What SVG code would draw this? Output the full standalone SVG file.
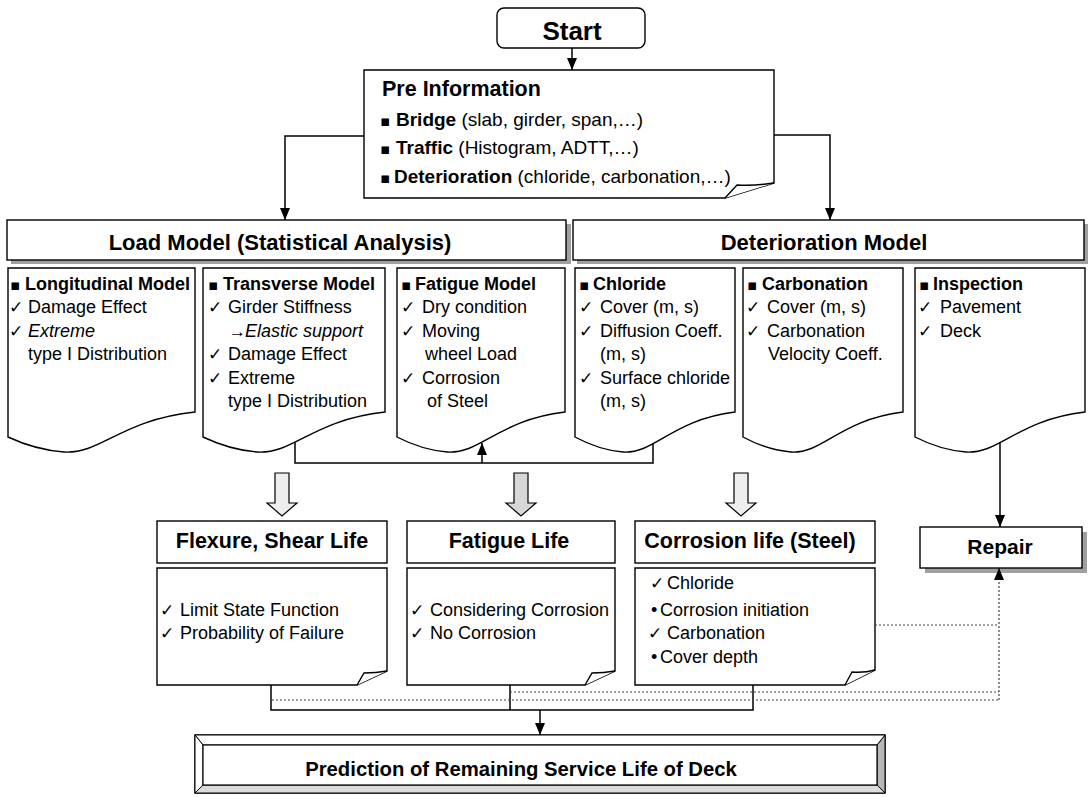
<svg xmlns="http://www.w3.org/2000/svg" width="1090" height="797" viewBox="0 0 1090 797">
<defs>
<marker id="ah" viewBox="0 0 12 10" markerWidth="12" markerHeight="10" refX="12" refY="5" orient="auto" markerUnits="userSpaceOnUse">
<path d="M0,0 L12,5 L0,10 z" fill="#000"/>
</marker>
</defs>
<style>
.box{fill:#fff;stroke:#000;stroke-width:1.4}
.sh{fill:#a0a0a0;stroke:none}
.t{font-family:"Liberation Sans",Arial,sans-serif;font-size:18px;fill:#000}
.p{font-size:19px}
.b{font-weight:bold}
.i{font-style:italic}
.h{font-family:"Liberation Sans",Arial,sans-serif;font-weight:bold;font-size:21.5px;fill:#000;text-anchor:middle}
.ck{font-family:"DejaVu Sans",sans-serif;font-size:17px}
.sq{font-family:"DejaVu Sans",sans-serif;font-size:15px}
.conn{fill:none;stroke:#000;stroke-width:1.5}
.dot{fill:none;stroke:#444;stroke-width:1.2;stroke-dasharray:2 2}
.blk{fill:#eeeeee;stroke:#000;stroke-width:1.2}
</style>
<rect width="1090" height="797" fill="#fff"/>

<g id="start">
<rect class="box" x="497" y="8" width="148" height="40" rx="7"/>
<text class="h" x="572" y="40" style="font-size:26px">Start</text>
</g>

<g id="pre-information">
<path class="box" d="M364,70 H774 V183 L725,198 H364 Z"/>
<path class="box" d="M725,198 L737,185 Q755,186 774,183"/>
<text class="t b" x="382" y="96" style="font-size:21.5px">Pre Information</text>
<text class="t p" y="126"><tspan x="380" class="sq">▪</tspan><tspan x="396" font-weight="bold">Bridge</tspan> (slab, girder, span,…)</text>
<text class="t p" y="154"><tspan x="380" class="sq">▪</tspan><tspan x="396" font-weight="bold">Traffic</tspan> (Histogram, ADTT,…)</text>
<text class="t p" y="183"><tspan x="380" class="sq">▪</tspan><tspan x="394" font-weight="bold">Deterioration</tspan> (chloride, carbonation,…)</text>
</g>

<g id="load-model">
<rect class="sh" x="11" y="224" width="560" height="40"/>
<rect class="box" x="7" y="220" width="559" height="40"/>
<text class="h" x="280" y="250" style="font-size:22px">Load Model (Statistical Analysis)</text>
</g>

<g id="deterioration-model">
<rect class="sh" x="577" y="224" width="511" height="40"/>
<rect class="box" x="573" y="220" width="511" height="40"/>
<text class="h" x="824" y="250" style="font-size:22px">Deterioration Model</text>
</g>

<g id="longitudinal-model">
<path class="box" d="M8,268 H195 V412 C120.2,420 101.5,454 64.1,452 Q36,450 8,437 Z"/>
<text class="t" y="290"><tspan x="10" class="sq">▪</tspan><tspan x="25" font-weight="bold">Longitudinal Model</tspan></text>
<text class="t" y="313"><tspan x="9" class="ck">✓</tspan><tspan x="28">Damage Effect</tspan></text>
<text class="t" y="337"><tspan x="9" class="ck">✓</tspan><tspan x="28" font-style="italic">Extreme</tspan></text>
<text class="t" x="28" y="360">type I Distribution</text>
</g>

<g id="transverse-model">
<path class="box" d="M203,268 H385 V412 C312.2,420 294,454 257.6,452 Q230.3,450 203,437 Z"/>
<text class="t" y="290"><tspan x="208" class="sq">▪</tspan><tspan x="223" font-weight="bold">Transverse Model</tspan></text>
<text class="t" y="313"><tspan x="208" class="ck">✓</tspan><tspan x="228">Girder Stiffness</tspan></text>
<text class="t" y="337"><tspan x="229" font-size="17">→</tspan><tspan x="245" font-style="italic">Elastic support</tspan></text>
<text class="t" y="360"><tspan x="208" class="ck">✓</tspan><tspan x="228">Damage Effect</tspan></text>
<text class="t" y="384"><tspan x="208" class="ck">✓</tspan><tspan x="228">Extreme</tspan></text>
<text class="t" x="228" y="407">type I Distribution</text>
</g>

<g id="fatigue-model">
<path class="box" d="M397,268 H565 V412 C497.8,420 481,454 447.4,452 Q422.2,450 397,437 Z"/>
<text class="t" y="290"><tspan x="401" class="sq">▪</tspan><tspan x="415" font-weight="bold">Fatigue Model</tspan></text>
<text class="t" y="313"><tspan x="401" class="ck">✓</tspan><tspan x="422">Dry condition</tspan></text>
<text class="t" y="337"><tspan x="401" class="ck">✓</tspan><tspan x="422">Moving</tspan></text>
<text class="t" x="425" y="360">wheel Load</text>
<text class="t" y="384"><tspan x="401" class="ck">✓</tspan><tspan x="422">Corrosion</tspan></text>
<text class="t" x="427" y="407">of Steel</text>
</g>

<g id="chloride">
<path class="box" d="M575,268 H735 V412 C671,420 655,454 623,452 Q599,450 575,437 Z"/>
<text class="t" y="290"><tspan x="579" class="sq">▪</tspan><tspan x="593" font-weight="bold">Chloride</tspan></text>
<text class="t" y="313"><tspan x="579" class="ck">✓</tspan><tspan x="600">Cover (m, s)</tspan></text>
<text class="t" y="337"><tspan x="579" class="ck">✓</tspan><tspan x="600">Diffusion Coeff.</tspan></text>
<text class="t" x="600" y="360">(m, s)</text>
<text class="t" y="384"><tspan x="579" class="ck">✓</tspan><tspan x="600">Surface chloride</tspan></text>
<text class="t" x="600" y="407">(m, s)</text>
</g>

<g id="carbonation">
<path class="box" d="M743,268 H903 V412 C839,420 823,454 791,452 Q767,450 743,437 Z"/>
<text class="t" y="290"><tspan x="747" class="sq">▪</tspan><tspan x="762" font-weight="bold">Carbonation</tspan></text>
<text class="t" y="313"><tspan x="746" class="ck">✓</tspan><tspan x="767">Cover (m, s)</tspan></text>
<text class="t" y="337"><tspan x="746" class="ck">✓</tspan><tspan x="767">Carbonation</tspan></text>
<text class="t" x="768" y="360">Velocity Coeff.</text>
</g>

<g id="inspection">
<path class="box" d="M915,268 H1085 V412 C1017,420 1000,454 966,452 Q940.5,450 915,437 Z"/>
<text class="t" y="290"><tspan x="919" class="sq">▪</tspan><tspan x="933" font-weight="bold">Inspection</tspan></text>
<text class="t" y="313"><tspan x="918" class="ck">✓</tspan><tspan x="940">Pavement</tspan></text>
<text class="t" y="337"><tspan x="918" class="ck">✓</tspan><tspan x="940">Deck</tspan></text>
</g>

<g id="flexure-shear-life">
<rect class="box" x="157" y="521" width="230" height="42"/>
<text class="h" x="272" y="548">Flexure, Shear Life</text>
<path class="box" d="M157,568 H387 V671 L357,685 H157 Z"/>
<path class="box" d="M357,685 L364,673 Q376,673 387,671"/>
<text class="t" y="616"><tspan x="160" class="ck">✓</tspan><tspan x="180">Limit State Function</tspan></text>
<text class="t" y="639"><tspan x="160" class="ck">✓</tspan><tspan x="180">Probability of Failure</tspan></text>
</g>

<g id="fatigue-life">
<rect class="box" x="407" y="521" width="208" height="42"/>
<text class="h" x="509" y="548">Fatigue Life</text>
<path class="box" d="M407,568 H615 V671 L585,685 H407 Z"/>
<path class="box" d="M585,685 L592,673 Q604,673 615,671"/>
<text class="t" y="616"><tspan x="410" class="ck">✓</tspan><tspan x="430">Considering Corrosion</tspan></text>
<text class="t" y="639"><tspan x="410" class="ck">✓</tspan><tspan x="430">No Corrosion</tspan></text>
</g>

<g id="corrosion-life">
<rect class="box" x="635" y="521" width="240" height="42"/>
<text class="h" x="750" y="548">Corrosion life (Steel)</text>
<path class="box" d="M635,568 H875 V670 L845,685 H635 Z"/>
<path class="box" d="M845,685 L852,672 Q864,673 875,670"/>
<text class="t" y="589"><tspan x="650" class="ck">✓</tspan><tspan x="667">Chloride</tspan></text>
<text class="t" y="616"><tspan x="651">•</tspan><tspan x="660">Corrosion initiation</tspan></text>
<text class="t" y="639"><tspan x="648" class="ck">✓</tspan><tspan x="667">Carbonation</tspan></text>
<text class="t" y="663"><tspan x="651">•</tspan><tspan x="660">Cover depth</tspan></text>
</g>

<g id="repair">
<rect class="sh" x="925" y="532" width="162" height="41"/>
<rect class="box" x="920" y="527" width="162" height="41"/>
<text class="h" x="1000" y="554" style="font-size:21px">Repair</text>
</g>

<g id="prediction">
<rect x="195" y="735" width="690" height="58" fill="#fff" stroke="#000" stroke-width="1.4"/>
<polygon points="877,745 885,735 885,793 877,785" fill="#b8b8b8" stroke="#000" stroke-width="1"/>
<polygon points="203,785 877,785 885,793 195,793" fill="#dcdcdc" stroke="#000" stroke-width="1"/>
<polygon points="195,735 885,735 877,745 203,745" fill="#fff" stroke="#000" stroke-width="1"/>
<polygon points="195,735 203,745 203,785 195,793" fill="#fff" stroke="#000" stroke-width="1"/>
<rect x="203" y="745" width="674" height="40" fill="#fff" stroke="#000" stroke-width="1.2"/>
<text class="h" x="521" y="776" style="font-size:20.3px">Prediction of Remaining Service Life of Deck</text>
</g>

<g id="connectors">
<line class="conn" x1="572" y1="48" x2="572" y2="70" marker-end="url(#ah)"/>
<polyline class="conn" points="364,136 285,136 285,220" marker-end="url(#ah)"/>
<polyline class="conn" points="774,135 830,135 830,220" marker-end="url(#ah)"/>
<polyline class="conn" points="295,442 295,463 653,463 653,443"/>
<line class="conn" x1="482" y1="463" x2="482" y2="443" marker-end="url(#ah)"/>
<line class="conn" x1="1000" y1="442" x2="1000" y2="527" marker-end="url(#ah)"/>
<polygon class="blk" points="275,473 289,473 289,503 297,503 282,516 267,503 275,503"/>
<polygon class="blk" points="514,473 528,473 528,503 536,503 521,516 506,503 514,503" style="fill:#d8d8d8"/>
<polygon class="blk" points="734,473 748,473 748,503 756,503 741,516 726,503 734,503"/>
<polyline class="conn" points="271,685 271,710 753,710 753,685"/>
<line class="conn" x1="510" y1="685" x2="510" y2="710"/>
<line class="conn" x1="540" y1="710" x2="540" y2="735" marker-end="url(#ah)"/>
<line class="dot" x1="272" y1="700" x2="999" y2="700"/>
<line class="dot" x1="510" y1="692" x2="999" y2="692"/>
<line class="dot" x1="875" y1="625" x2="999" y2="625"/>
<line class="dot" x1="999" y1="700" x2="999" y2="580"/>
<line class="conn" x1="999" y1="580" x2="999" y2="568" marker-end="url(#ah)" style="stroke-width:1"/>
</g>
</svg>
